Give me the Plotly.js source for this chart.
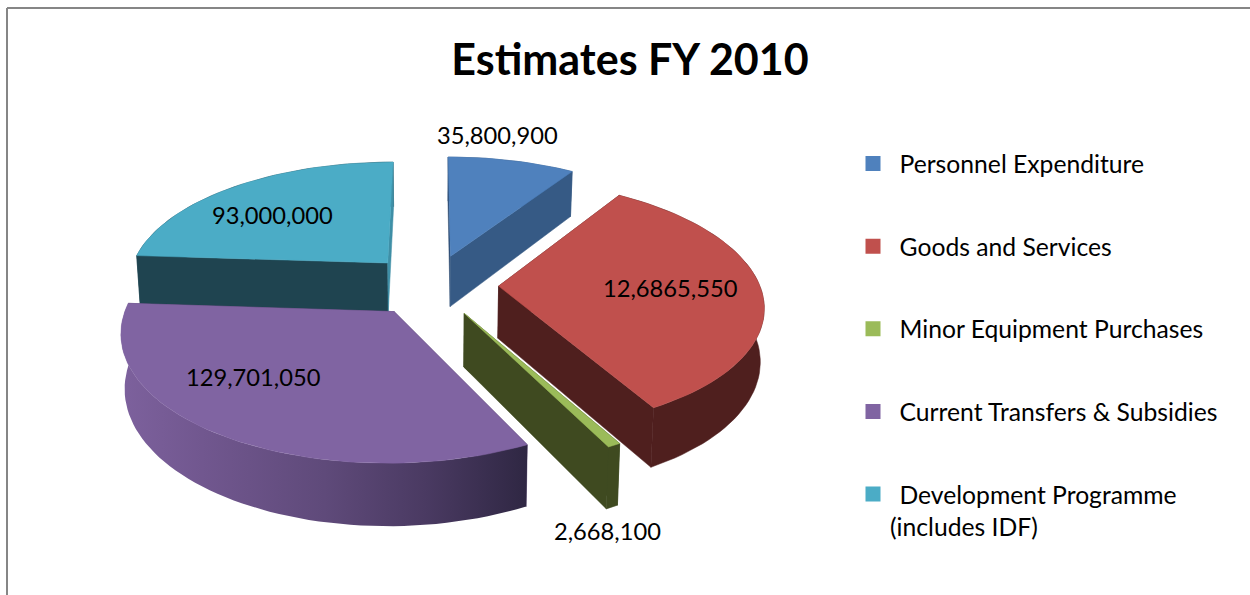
<!DOCTYPE html>
<html><head><meta charset="utf-8">
<script src="https://cdn.plot.ly/plotly-3.0.1.min.js"></script>
<style>html,body{margin:0;padding:0;background:#fff;overflow:hidden}#chart{width:1250px;height:595px}</style>
</head><body><div id="chart"></div>
<script>
// ---- data ----
const categories = ['Personnel Expenditure','Goods and Services','Minor Equipment Purchases','Current Transfers & Subsidies','Development Programme'];
const values = [35800900, 126865550, 2668100, 129701050, 93000000];
const valueLabels = ['35,800,900','12,6865,550','2,668,100','129,701,050','93,000,000'];
const legendNote = '(includes IDF)';
const chartTitle = 'Estimates FY 2010';
// ---- styles ----
const topColors  = ['#4f81bd','#c0504d','#9bbb59','#8064a2','#4bacc6'];
const startFace  = ['#2c4a70','#4f1f1e','#3f4a20','#4f3d66','#1f4450'];
const endFace    = ['#365a85','#4f1f1e','#3f4a20','#4f3d66','#3f8fa6'];
const rimColors  = ['#365a85','#4f1f1e','#3f4a20','#4f3d66','#1f4450'];
const labelX = [497,670,607,253,272];
const labelY = [135,288,531,377,215];
const drawOrder = [0,4,1,3,2];
// ---- projection of the exploded disc ----
const CX=432, CY=285, RX=261, RY=121.3, K=0.144, DEPTH=52, PULL=0.255;
function project(X,Y,z){
  const s=1/(1+K*Y);
  return [CX+X*RX*s*(1-0.012*z), CY-Y*RY*s+z*DEPTH*s];
}
const total=values.reduce((a,b)=>a+b,0);
const traces=[];
function poly(pts,color,gradient){
  const t={x:pts.map(p=>p[0]),y:pts.map(p=>p[1]),mode:'lines',fill:'toself',hoverinfo:'skip',showlegend:false};
  if(gradient){t.line={width:0,color:'rgba(0,0,0,0)'};t.fillgradient=gradient;}
  else{t.fillcolor=color;t.line={width:0.5,color:color};}
  traces.push(t);
}
let acc=0;
const slices=values.map(v=>{const a0=acc/total*2*Math.PI;acc+=v;return [a0,acc/total*2*Math.PI];});
const rimGradient={type:'horizontal',colorscale:[[0,'#7d619d'],[0.2,'#71578f'],[0.5,'#5f4a7a'],[0.75,'#4a3a62'],[1,'#2f2743']]};
drawOrder.forEach(i=>{
  const [a0,a1]=slices[i], mid=(a0+a1)/2;
  const ox=PULL*Math.sin(mid), oy=PULL*Math.cos(mid);
  const n=Math.max(2,Math.ceil((a1-a0)/(Math.PI/90)));
  const arc=z=>{const r=[];for(let j=0;j<=n;j++){const a=a0+(a1-a0)*j/n;r.push(project(ox+Math.sin(a),oy+Math.cos(a),z));}return r;};
  const top=arc(0),bot=arc(1),apT=project(ox,oy,0),apB=project(ox,oy,1);
  const rim=()=>poly(top.concat(bot.slice().reverse()).concat([top[0]]),rimColors[i],i===3?rimGradient:null);
  if(i!==3) rim();
  poly([apT,top[0],bot[0],apB,apT],startFace[i]);
  poly([apT,top[n],bot[n],apB,apT],endFace[i]);
  if(i===3) rim();
  poly([apT].concat(top).concat([apT]),topColors[i]);
});
// legend entries
categories.forEach((c,i)=>traces.push({x:[null],y:[null],mode:'markers',name:c,legendgroup:c,
  marker:{symbol:'square',size:15,color:topColors[i]},hoverinfo:'skip'}));
const FONT='Lato, "Open Sans", sans-serif';
const annotations=valueLabels.map((t,i)=>({text:t,x:labelX[i],y:labelY[i],xref:'x',yref:'y',showarrow:false,
  xanchor:'center',yanchor:'middle',font:{family:FONT,size:23.7,color:'#000'}}));
annotations.push({text:legendNote,x:888,y:526,xref:'x',yref:'y',showarrow:false,xanchor:'left',yanchor:'middle',
  font:{family:FONT,size:24.7,color:'#000'}});
const layout={
  width:1250,height:595,margin:{l:0,r:0,t:0,b:0},paper_bgcolor:'#fff',plot_bgcolor:'#fff',
  title:{text:chartTitle,x:630/1250,xanchor:'center',y:1-60/595,yanchor:'middle',font:{family:FONT,size:43,color:'#000',weight:700}},
  xaxis:{range:[0,1250],visible:false,fixedrange:true},
  yaxis:{range:[595,0],visible:false,fixedrange:true},
  showlegend:true,
  legend:{x:846.5/1250,y:1-141/595,xanchor:'left',yanchor:'top',tracegroupgap:47.5,itemsizing:'trace',itemwidth:43,
    font:{family:FONT,size:24.7,color:'#000'},bgcolor:'rgba(0,0,0,0)'},
  annotations:annotations,
  shapes:[{type:'line',xref:'paper',yref:'paper',x0:7/1250,x1:1,y0:1-8/595,y1:1-8/595,line:{color:'#868686',width:2}},
          {type:'line',xref:'paper',yref:'paper',x0:7/1250,x1:7/1250,y0:0,y1:1-8/595,line:{color:'#868686',width:2}}]
};
Plotly.newPlot('chart',traces,layout,{displayModeBar:false,staticPlot:true});
</script></body></html>
